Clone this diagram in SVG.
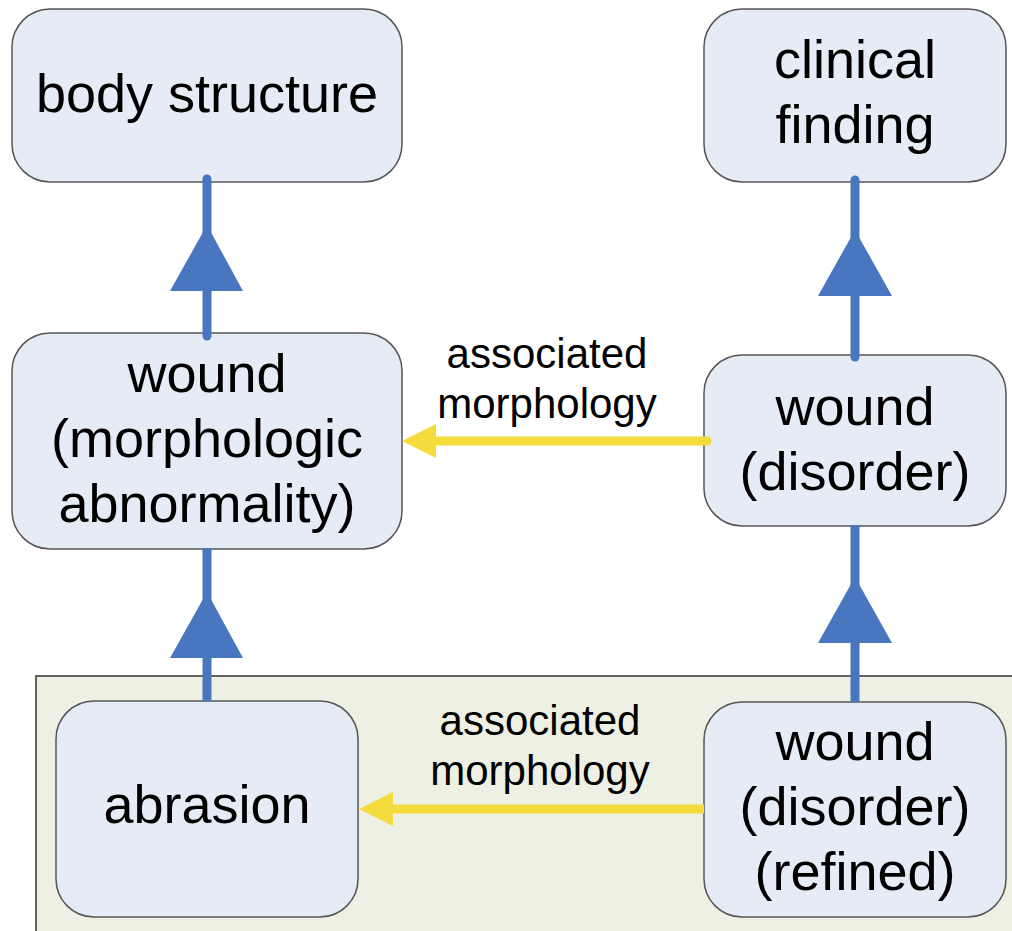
<svg xmlns="http://www.w3.org/2000/svg" width="1012" height="931" viewBox="0 0 1012 931">
  <style>
    .node rect { fill: #E6ECF6; stroke: #555555; stroke-width: 1.5; }
    .node text, .label { font-family: "Liberation Sans", Arial, sans-serif; fill: #000000; text-anchor: middle; }
    .node text { font-size: 54px; }
    .label { font-size: 42px; }
    .isa { stroke: #4877BF; stroke-width: 9; stroke-linecap: round; fill: none; }
    .isa-head { fill: #4877BF; }
    .rel { stroke: #F3DC3B; stroke-width: 9; stroke-linecap: round; fill: none; }
    .rel-head { fill: #F3DC3B; }
    .flat { stroke-linecap: butt; }
  </style>

  <!-- refinement area -->
  <rect id="refinement-area" x="36" y="676" width="990" height="270" fill="#EEF0E3" stroke="#333333" stroke-width="1.5"/>

  <g id="body-structure" class="node">
    <rect x="12" y="9" width="390" height="173" rx="38" ry="38"/>
    <text x="207" y="112">body structure</text>
  </g>

  <g id="clinical-finding" class="node">
    <rect x="704" y="9" width="302" height="173" rx="38" ry="38"/>
    <text x="855" y="78">clinical</text>
    <text x="855" y="143">finding</text>
  </g>

  <g id="wound-morphologic" class="node">
    <rect x="12" y="333" width="390" height="216" rx="38" ry="38"/>
    <text x="207" y="392">wound</text>
    <text x="207" y="457">(morphologic</text>
    <text x="207" y="522">abnormality)</text>
  </g>

  <g id="wound-disorder" class="node">
    <rect x="704" y="355" width="302" height="171" rx="38" ry="38"/>
    <text x="855" y="425">wound</text>
    <text x="855" y="490">(disorder)</text>
  </g>

  <g id="abrasion" class="node">
    <rect x="56" y="701" width="302" height="216" rx="38" ry="38"/>
    <text x="207" y="823">abrasion</text>
  </g>

  <g id="wound-disorder-refined" class="node">
    <rect x="704" y="702" width="302" height="215" rx="38" ry="38"/>
    <text x="855" y="760">wound</text>
    <text x="855" y="825">(disorder)</text>
    <text x="855" y="890">(refined)</text>
  </g>

  <!-- connectors -->
  <g id="connectors">
    <!-- is-a: wound (morphologic abnormality) -> body structure -->
    <line class="isa" x1="207" y1="179" x2="207" y2="336"/>
    <polygon class="isa-head" points="207,225 243,291 170,291"/>
    <!-- is-a: wound (disorder) -> clinical finding -->
    <line class="isa" x1="855" y1="180" x2="855" y2="357"/>
    <polygon class="isa-head" points="855,230 892,296 818,296"/>
    <!-- is-a: abrasion -> wound (morphologic abnormality) -->
    <line class="isa flat" x1="207" y1="548" x2="207" y2="701"/>
    <polygon class="isa-head" points="207,592 243,658 170,658"/>
    <!-- is-a: refined -> wound (disorder) -->
    <line class="isa flat" x1="855" y1="525" x2="855" y2="702"/>
    <polygon class="isa-head" points="855,577 892,643 818,643"/>
    <!-- associated morphology (upper) -->
    <line class="rel" x1="707" y1="441" x2="430" y2="441"/>
    <polygon class="rel-head" points="402,441 436,424 436,458"/>
    <!-- associated morphology (lower) -->
    <line class="rel flat" x1="704" y1="809" x2="388" y2="809"/>
    <polygon class="rel-head" points="359,809 393,792 393,826"/>
    <text class="label" x="547" y="368">associated</text>
    <text class="label" x="547" y="418">morphology</text>
    <text class="label" x="540" y="735">associated</text>
    <text class="label" x="540" y="785">morphology</text>
  </g>
</svg>
